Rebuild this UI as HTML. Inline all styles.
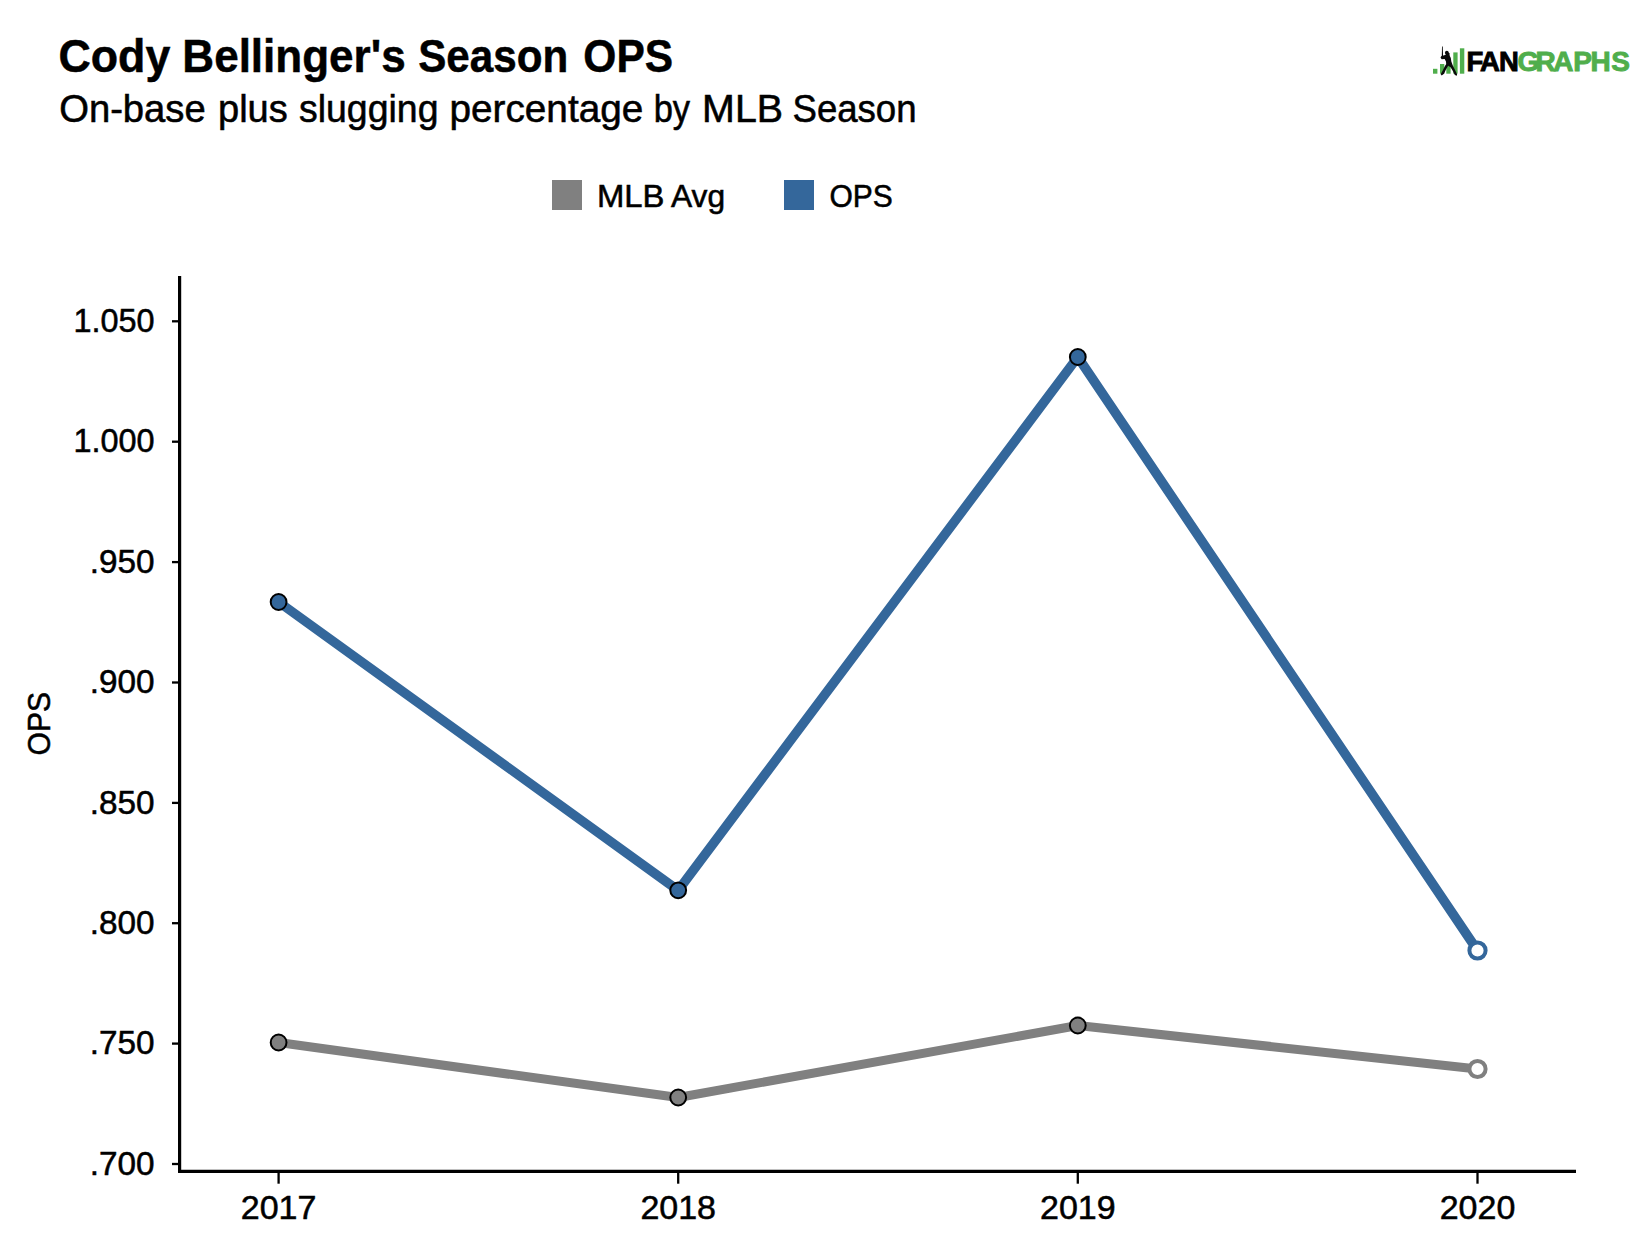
<!DOCTYPE html>
<html><head><meta charset="utf-8"><style>
html,body{margin:0;padding:0;background:#fff;}
body{width:1650px;height:1246px;overflow:hidden;position:relative;font-family:"Liberation Sans",sans-serif;color:#000;}
svg{position:absolute;left:0;top:0;}
text{font-family:"Liberation Sans",sans-serif;fill:#000;}
.rg text{stroke:#000;stroke-width:0.55px;}
#title text{stroke:#000;stroke-width:0.5px;}
</style></head><body>
<svg width="1650" height="1246" viewBox="0 0 1650 1246">
<rect width="1650" height="1246" fill="#fff"/>
<!-- titles -->
<g id="title">
<text transform="translate(58.48,71.5) scale(0.9614,1)" font-size="46.5" font-weight="bold">Cody</text>
<text transform="translate(182.36,71.5) scale(0.9472,1)" font-size="46.5" font-weight="bold">Bellinger's</text>
<text transform="translate(418.19,71.5) scale(0.9068,1)" font-size="46.5" font-weight="bold">Season</text>
<text transform="translate(583.37,71.5) scale(0.9137,1)" font-size="46.5" font-weight="bold">OPS</text>
</g>
<g id="sub" class="rg">
<text transform="translate(59.19,122) scale(1.0056,1)" font-size="38" font-weight="normal">On-base</text>
<text transform="translate(218.00,122) scale(1.0000,1)" font-size="38" font-weight="normal">plus</text>
<text transform="translate(299.01,122) scale(0.9855,1)" font-size="38" font-weight="normal">slugging</text>
<text transform="translate(449.46,122) scale(1.0198,1)" font-size="38" font-weight="normal">percentage</text>
<text transform="translate(653.68,122) scale(0.9079,1)" font-size="38" font-weight="normal">by</text>
<text transform="translate(702.09,122) scale(1.0370,1)" font-size="38" font-weight="normal">MLB</text>
<text transform="translate(792.47,122) scale(0.9632,1)" font-size="38" font-weight="normal">Season</text>
</g>
<!-- logo -->
<g id="logo">
<g fill="#50ae4c">
<rect x="1433" y="68.8" width="4.4" height="4.9"/>
<rect x="1440" y="64" width="4.3" height="9.7"/>
<rect x="1446.3" y="58.5" width="4.3" height="15.2"/>
<rect x="1453.3" y="52.4" width="4.3" height="21.3"/>
<rect x="1459.9" y="48.3" width="4.4" height="25.4"/>
</g>
<g transform="translate(1428,42) scale(0.030488)" fill="#0a0a0a">
<circle cx="618" cy="352" r="62"/>
<path d="M600,330 L700,360 L705,395 L600,395 Z"/>
<path d="M460,150 L484,150 L494,470 L452,470 Z"/>
<path d="M585,380 L700,380 L715,450 L575,450 Z"/>
<path d="M560,430 L430,465 L412,520 L450,565 L545,560 L590,640 L600,720 L560,780 L480,940 L415,1060 L450,1100 L525,1040 L590,900 L660,775 L740,830 L820,960 L880,1085 L945,1105 L955,1060 L890,930 L810,760 L765,640 L745,520 L705,440 L650,415 Z"/>
</g>
<text font-size="27.5" font-weight="bold" stroke="#000" stroke-width="0.9" x="1466.6 1479.9 1499.1" y="71.2">FAN</text>
<text font-size="28" font-weight="bold" style="fill:#50ae4c" stroke="#50ae4c" stroke-width="0.9" x="1517.6 1535.5 1553.2 1573.2 1590.5 1611.2" y="71.3">GRAPHS</text>
</g>
<!-- legend -->
<rect x="552" y="180" width="30" height="30" fill="#808080"/>
<g class="rg"><text transform="translate(596.92,207.1) scale(1.0279,1)" font-size="32" font-weight="normal">MLB</text>
<text transform="translate(670.90,207.1) scale(0.9925,1)" font-size="32" font-weight="normal">Avg</text></g>
<rect x="784" y="180" width="30" height="30" fill="#34679b"/>
<g class="rg"><text transform="translate(829.42,207.1) scale(0.9375,1)" font-size="32" font-weight="normal">OPS</text></g>
<!-- axes -->
<g stroke="#000" stroke-width="3.2" fill="none">
<line x1="179.6" y1="276" x2="179.6" y2="1172.8"/>
<line x1="178.1" y1="1171.3" x2="1576" y2="1171.3"/>
</g>
<g stroke="#000" stroke-width="2.3" fill="none" id="ticks">
<line x1="172" y1="321.3" x2="179" y2="321.3"/>
<line x1="172" y1="441.7" x2="179" y2="441.7"/>
<line x1="172" y1="562.1" x2="179" y2="562.1"/>
<line x1="172" y1="682.5" x2="179" y2="682.5"/>
<line x1="172" y1="802.9" x2="179" y2="802.9"/>
<line x1="172" y1="923.2" x2="179" y2="923.2"/>
<line x1="172" y1="1043.6" x2="179" y2="1043.6"/>
<line x1="172" y1="1164.0" x2="179" y2="1164.0"/>
<line x1="278.6" y1="1172" x2="278.6" y2="1183.7"/>
<line x1="678.2" y1="1172" x2="678.2" y2="1183.7"/>
<line x1="1077.8" y1="1172" x2="1077.8" y2="1183.7"/>
<line x1="1477.5" y1="1172" x2="1477.5" y2="1183.7"/>
</g>
<g id="ylabels" class="rg" font-size="34" text-anchor="end">
<text x="154.6" y="332.0" textLength="81.1" lengthAdjust="spacingAndGlyphs">1.050</text>
<text x="154.6" y="452.4" textLength="81.1" lengthAdjust="spacingAndGlyphs">1.000</text>
<text x="154.6" y="572.8" textLength="64.8" lengthAdjust="spacingAndGlyphs">.950</text>
<text x="154.6" y="693.2" textLength="64.8" lengthAdjust="spacingAndGlyphs">.900</text>
<text x="154.6" y="813.6" textLength="64.8" lengthAdjust="spacingAndGlyphs">.850</text>
<text x="154.6" y="933.9" textLength="64.8" lengthAdjust="spacingAndGlyphs">.800</text>
<text x="154.6" y="1054.3" textLength="64.8" lengthAdjust="spacingAndGlyphs">.750</text>
<text x="154.6" y="1174.7" textLength="64.8" lengthAdjust="spacingAndGlyphs">.700</text>
</g>
<g id="xlabels" class="rg" font-size="34" text-anchor="middle">
<text x="278.6" y="1218.8">2017</text>
<text x="678.2" y="1218.8">2018</text>
<text x="1077.8" y="1218.8">2019</text>
<text x="1477.5" y="1218.8">2020</text>
</g>
<g class="rg"><text transform="translate(49.6,753.5) rotate(-90) translate(-1.88,0) scale(0.9375,1)" font-size="32">OPS</text></g>
<!-- series -->
<polyline points="278.6,1042.5 678.2,1097.5 1077.8,1025.5 1477.5,1069" fill="none" stroke="#808080" stroke-width="9" stroke-linejoin="round"/>
<polyline points="278.6,602 678.2,890.3 1077.8,357 1477.5,950.5" fill="none" stroke="#34679b" stroke-width="9.5" stroke-linejoin="round"/>
<g stroke="#000" stroke-width="2">
<circle cx="278.6" cy="1042.5" r="7.9" fill="#808080"/>
<circle cx="678.2" cy="1097.5" r="7.9" fill="#808080"/>
<circle cx="1077.8" cy="1025.5" r="7.9" fill="#808080"/>
<circle cx="278.6" cy="602" r="7.9" fill="#34679b"/>
<circle cx="678.2" cy="890.3" r="7.9" fill="#34679b"/>
<circle cx="1077.8" cy="357" r="7.9" fill="#34679b"/>
</g>
<circle cx="1477.5" cy="1069" r="8.1" fill="#fff" stroke="#808080" stroke-width="4"/>
<circle cx="1477.5" cy="950.5" r="8.1" fill="#fff" stroke="#34679b" stroke-width="4"/>
</svg>
</body></html>
